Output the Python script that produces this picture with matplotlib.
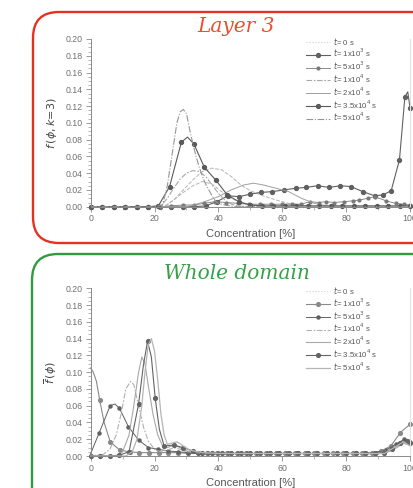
import matplotlib
matplotlib.use("Agg")
import matplotlib.pyplot as plt
from matplotlib.patches import FancyBboxPatch
from matplotlib.transforms import IdentityTransform
from matplotlib.ticker import MultipleLocator

plt.rcParams['font.family'] = ['Liberation Sans', 'DejaVu Sans']
plt.rcParams['mathtext.fontset'] = 'dejavusans'

# ---------------- data ----------------
time_labels = [r"$t$= 0 s", r"$t$= 1x10$^3$ s", r"$t$= 5x10$^3$ s", r"$t$= 1x10$^4$ s",
               r"$t$= 2x10$^4$ s", r"$t$= 3.5x10$^4$ s", r"$t$= 5x10$^4$ s"]
panel_titles = ["Layer 3", "Whole domain"]
x_label = "Concentration [%]"
y_labels = [r"$f\,(\phi,k\!=\!3)$", r"$\overline{f}\,(\phi)$"]
y_ticks = [0.00, 0.02, 0.04, 0.06, 0.08, 0.10, 0.12, 0.14, 0.16, 0.18, 0.20]
x_ticks = [0, 20, 40, 60, 80, 100]

# Layer 3
L3_t0_x = [0, 100]
L3_t0_y = [0, 0]
L3_t1e3_x = [0, 3.6, 7.2, 10.8, 14.4, 18, 21.6, 25.2, 28.8, 32.4, 36, 39.5, 43, 46.5, 50,
             53.2, 56.9, 60.5, 64.2, 67.4, 71.1, 74.7, 78.2, 81.5, 85.2, 88.9, 91.5, 94.1,
             96.7, 98.4, 99.3, 100]
L3_t1e3_y = [0, 0, 0, 0, 0, 0, 0, 0, 0, 0, 0.001, 0.006, 0.013, 0.012, 0.015,
             0.017, 0.018, 0.020, 0.022, 0.023, 0.025, 0.023, 0.025, 0.024, 0.018, 0.013, 0.014, 0.019,
             0.056, 0.131, 0.137, 0.118]
L3_t5e3_x = [0, 3.6, 7.2, 10.8, 14.4, 18, 21.6, 25.2, 28.8, 32.4, 35.4, 39, 42.5, 46, 49.5,
             53, 56.5, 60, 63, 65.8, 68.7, 71.5, 73.7, 76.3, 79.4, 82, 84.1, 86.8, 89, 92.5,
             95.5, 98, 100]
L3_t5e3_y = [0, 0, 0, 0, 0, 0, 0, 0.001, 0.002, 0.002, 0.004, 0.006, 0.005, 0.004, 0.003,
             0.003, 0.003, 0.003, 0.003, 0.003, 0.006, 0.005, 0.006, 0.005, 0.006, 0.007, 0.008,
             0.010, 0.012, 0.007, 0.004, 0.003, 0.002]
L3_t1e4_x = [0, 20, 22, 24, 26, 28, 30, 32, 34, 36, 38, 40, 42, 44, 46, 50, 100]
L3_t1e4_y = [0, 0, 0.001, 0.010, 0.022, 0.033, 0.040, 0.043, 0.042, 0.036, 0.026, 0.016,
             0.008, 0.003, 0.001, 0, 0]
L3_t2e4_x = [0, 30, 35, 40, 44, 48, 51, 54, 58, 62, 66, 70, 74, 80, 100]
L3_t2e4_y = [0, 0, 0.005, 0.012, 0.020, 0.026, 0.028, 0.026, 0.022, 0.018, 0.010, 0.004,
             0.001, 0, 0]
L3_t35e4_x = [0, 3.6, 7.2, 10.8, 14.4, 18, 21.2, 24.7, 28.4, 30.3, 32.3, 35.6, 39.1, 42.8,
              46.4, 50, 53.6, 57.2, 60.8, 64.4, 68, 71.6, 75.2, 78.8, 82.4, 86, 89.6, 93.2,
              96.8, 100]
L3_t35e4_y = [0, 0, 0, 0, 0, 0, 0.001, 0.024, 0.077, 0.083, 0.075, 0.047, 0.032, 0.014,
              0.006, 0.002, 0.001, 0.001, 0.001, 0.001, 0.001, 0.001, 0.001, 0.001, 0.001,
              0.001, 0.001, 0.001, 0.001, 0.001]
L3_t5e4_x = [0, 20, 22.5, 24, 25, 26, 27, 28, 29, 30, 31, 32, 33, 34, 35, 36, 37, 38, 39,
             40, 42, 45, 100]
L3_t5e4_y = [0, 0, 0.002, 0.025, 0.050, 0.075, 0.100, 0.113, 0.116, 0.111, 0.092, 0.075,
             0.060, 0.047, 0.036, 0.027, 0.020, 0.013, 0.007, 0.004, 0.002, 0, 0]
L3_extra_a_x = [0, 23, 26, 29, 32, 35, 38, 41, 44, 47, 50, 54, 58, 62, 66, 70, 100]
L3_extra_a_y = [0, 0, 0.008, 0.020, 0.032, 0.042, 0.046, 0.044, 0.036, 0.026, 0.019, 0.013,
                0.008, 0.004, 0.002, 0, 0]
L3_extra_b_x = [0, 23, 26, 29, 32, 35, 38, 41, 44, 47, 50, 55, 100]
L3_extra_b_y = [0, 0, 0.008, 0.017, 0.025, 0.030, 0.027, 0.018, 0.010, 0.005, 0.002, 0, 0]

# Whole domain
W_t0_x = [0, 100]
W_t0_y = [0, 0]
W_t1e3_x = [0, 0.8, 1.8, 2.8, 4.2, 6.1, 9.1, 12.2, 15.2, 18.2, 21.3, 24.3, 27.4, 30.4, 33.5,
            36.5, 39.6, 42.6, 45.7, 48.7, 51.8, 54.8, 57.9, 60.9, 64, 67, 70, 73, 76, 79, 82,
            85, 88, 91, 94, 97, 100]
W_t1e3_y = [0.105, 0.100, 0.089, 0.067, 0.040, 0.017, 0.007, 0.005, 0.004, 0.004, 0.004,
            0.004, 0.004, 0.003, 0.003, 0.003, 0.003, 0.003, 0.003, 0.003, 0.003, 0.003, 0.003,
            0.003, 0.003, 0.003, 0.003, 0.003, 0.003, 0.003, 0.003, 0.003, 0.004, 0.006, 0.012,
            0.028, 0.038]
W_t5e3_x = [0, 2.7, 6.1, 7.6, 9, 11.8, 15, 18.1, 21.2, 24.3, 27.4, 30.5, 33.6, 36.7, 39.8,
            42.9, 46, 49.1, 52.2, 55.3, 58.4, 61.5, 64.6, 67.7, 70.8, 73.9, 77, 80.1, 83.2,
            86.3, 89.4, 92.5, 95.6, 98.2, 100]
W_t5e3_y = [0.003, 0.028, 0.060, 0.062, 0.057, 0.035, 0.019, 0.010, 0.008, 0.006, 0.005,
            0.004, 0.003, 0.003, 0.003, 0.003, 0.003, 0.003, 0.003, 0.003, 0.003, 0.003, 0.003,
            0.003, 0.003, 0.003, 0.003, 0.003, 0.003, 0.003, 0.004, 0.007, 0.014, 0.020, 0.017]
W_t1e4_x = [0, 4, 6, 8, 9.5, 11, 12.5, 13.5, 15, 16.5, 18, 20, 22, 24, 26, 28, 30, 35, 40,
            50, 60, 70, 80, 90, 94, 97, 100]
W_t1e4_y = [0, 0.002, 0.008, 0.025, 0.050, 0.080, 0.089, 0.085, 0.060, 0.035, 0.018, 0.008,
            0.005, 0.007, 0.010, 0.008, 0.005, 0.004, 0.003, 0.003, 0.003, 0.003, 0.003, 0.003,
            0.008, 0.015, 0.020]
W_t2e4_x = [0, 8, 10, 12, 13.5, 15, 16, 17, 18, 19.5, 21, 22.5, 24, 26, 28, 30, 35, 40, 50,
            60, 70, 80, 92, 95, 98, 100]
W_t2e4_y = [0, 0, 0.005, 0.025, 0.060, 0.100, 0.118, 0.110, 0.085, 0.050, 0.025, 0.012,
            0.010, 0.013, 0.010, 0.006, 0.003, 0.003, 0.003, 0.003, 0.003, 0.003, 0.003, 0.008,
            0.015, 0.013]
W_t35e4_x = [0, 3, 6, 9, 12, 15, 16.5, 17.8, 19, 20.2, 21.5, 23, 26, 29, 32, 35, 38, 41, 44,
             47, 50, 53, 56, 59, 62, 65, 68, 71, 74, 77, 80, 83, 86, 89, 92, 94.5, 97, 99, 100]
W_t35e4_y = [0, 0, 0, 0.001, 0.005, 0.062, 0.108, 0.137, 0.118, 0.069, 0.032, 0.012, 0.013,
             0.010, 0.006, 0.004, 0.003, 0.003, 0.003, 0.003, 0.003, 0.003, 0.003, 0.003,
             0.003, 0.003, 0.003, 0.003, 0.003, 0.003, 0.003, 0.003, 0.003, 0.003, 0.004,
             0.008, 0.016, 0.018, 0.016]
W_t5e4_x = [0, 11, 13, 14.5, 16, 17, 18, 19, 20, 21, 22, 23, 24, 26, 27, 29, 31, 35, 40, 50,
            60, 70, 80, 92, 95, 98, 100]
W_t5e4_y = [0, 0, 0.005, 0.020, 0.060, 0.100, 0.132, 0.140, 0.125, 0.090, 0.050, 0.025,
            0.014, 0.016, 0.017, 0.012, 0.007, 0.004, 0.003, 0.003, 0.003, 0.003, 0.003, 0.003,
            0.010, 0.017, 0.012]

layer3_series = [(L3_t0_x, L3_t0_y), (L3_t1e3_x, L3_t1e3_y), (L3_t5e3_x, L3_t5e3_y),
                 (L3_t1e4_x, L3_t1e4_y), (L3_t2e4_x, L3_t2e4_y), (L3_t35e4_x, L3_t35e4_y),
                 (L3_t5e4_x, L3_t5e4_y)]
layer3_extra = [(L3_extra_a_x, L3_extra_a_y), (L3_extra_b_x, L3_extra_b_y)]
whole_series = [(W_t0_x, W_t0_y), (W_t1e3_x, W_t1e3_y), (W_t5e3_x, W_t5e3_y),
                (W_t1e4_x, W_t1e4_y), (W_t2e4_x, W_t2e4_y), (W_t35e4_x, W_t35e4_y),
                (W_t5e4_x, W_t5e4_y)]

# ---------------- styles ----------------
top_styles = [
    dict(color='#cfcfcf', ls=':', lw=0.8),
    dict(color='#606060', ls='-', lw=0.8, marker='o', ms=2.8, markevery=[i for i in range(32) if i != 30]),
    dict(color='#7a7a7a', ls='-', lw=0.6, marker='o', ms=2.0),
    dict(color='#a8a8a8', ls=(0, (5, 1.5, 1.5, 1.5)), lw=0.8),
    dict(color='#a0a0a0', ls='-', lw=0.7),
    dict(color='#5a5a5a', ls='-', lw=0.8, marker='o', ms=2.8, markevery=[i for i in range(30) if i != 9]),
    dict(color='#959595', ls=(0, (6, 1.5, 1, 1.5)), lw=0.8),
]
extra_style = dict(color='#b5b5b5', ls=(0, (4, 1.5)), lw=0.7)
bottom_styles = [
    dict(color='#cfcfcf', ls=':', lw=0.8),
    dict(color='#8a8a8a', ls='-', lw=0.8, marker='o', ms=2.7, markevery=[3] + list(range(5, 37))),
    dict(color='#606060', ls='-', lw=0.7, marker='o', ms=2.2, markevery=[1, 2] + list(range(4, 35))),
    dict(color='#b0b0b0', ls=(0, (5, 1.5, 1.5, 1.5)), lw=0.8),
    dict(color='#a8a8a8', ls='-', lw=0.8),
    dict(color='#646464', ls='-', lw=0.8, marker='o', ms=2.7,
         markevery=[0, 1, 2, 3, 4, 5, 7, 9] + list(range(11, 39))),
    dict(color='#b5b5b5', ls='-', lw=0.9),
]

W, H = 414, 488
fig = plt.figure(figsize=(W / 100, H / 100), dpi=100)


def frac(left, top, right, bottom):
    return [left / W, 1 - bottom / H, (right - left) / W, (bottom - top) / H]


# rounded frames
red_box = FancyBboxPatch((33, H - 243), 420, 231, boxstyle="round,pad=0,rounding_size=26",
                         transform=IdentityTransform(), fill=False, ec='#e3321f', lw=1.7)
green_box = FancyBboxPatch((32, -40), 420, H - 254 + 40, boxstyle="round,pad=0,rounding_size=26",
                           transform=IdentityTransform(), fill=False, ec='#2f9a3e', lw=1.7)
fig.add_artist(red_box)
fig.add_artist(green_box)

ax1 = fig.add_axes(frac(90.7, 39, 410, 206.7))
ax2 = fig.add_axes(frac(90.7, 288.3, 410, 456))

for ax, series, styles, extras, ylab in [
        (ax1, layer3_series, top_styles, layer3_extra, y_labels[0]),
        (ax2, whole_series, bottom_styles, [], y_labels[1])]:
    for (xs, ys) in extras:
        ax.plot(xs, ys, **extra_style)
    for (xs, ys), st, lab in zip(series, styles, time_labels):
        ax.plot(xs, ys, label=lab, clip_on=False, **st)
    ax.set_xlim(0, 100)
    ax.set_ylim(0, 0.20)
    ax.set_xticks(x_ticks)
    ax.set_yticks(y_ticks)
    ax.set_yticklabels([f"{v:.2f}" for v in y_ticks])
    ax.xaxis.set_minor_locator(MultipleLocator(10))
    ax.yaxis.set_minor_locator(MultipleLocator(0.005))
    ax.tick_params(axis='both', which='major', direction='out', length=3.5, width=0.6,
                   colors='#8a8a8a', labelsize=6.3, labelcolor='#707070', pad=2)
    ax.tick_params(axis='both', which='minor', direction='out', length=2, width=0.5,
                   colors='#9a9a9a')
    ax.spines['top'].set_visible(False)
    ax.spines['right'].set_color('#e2e2e2')
    ax.spines['right'].set_linewidth(0.8)
    for s in ('left', 'bottom'):
        ax.spines[s].set_color('#8a8a8a')
        ax.spines[s].set_linewidth(0.7)
    ax.set_xlabel(x_label, fontsize=8, color='#555555', labelpad=4)
    ax.set_ylabel(ylab, fontsize=8, color='#444444', labelpad=5)
    ax.legend(loc='upper left', bbox_to_anchor=(0.675, 1.02), frameon=False, fontsize=5.6,
              labelcolor='#555555', handlelength=3.1, handletextpad=0.4, labelspacing=0.05,
              borderpad=0, borderaxespad=0)

fig.text(236 / W, 1 - 26.7 / H, panel_titles[0], fontsize=14.5, color='#e8502f',
         family='DejaVu Serif', style='italic', ha='center', va='center')
fig.text(237 / W, 1 - 273.3 / H, panel_titles[1], fontsize=14.5, color='#38a048',
         family='DejaVu Serif', style='italic', ha='center', va='center')

fig.savefig("out.png", dpi=100)
